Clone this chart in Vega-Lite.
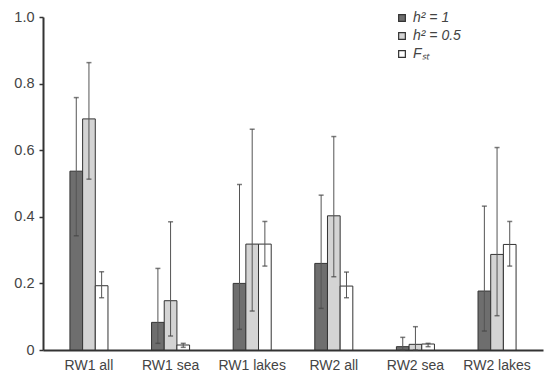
{
  "$schema": "https://vega.github.io/schema/vega-lite/v6.json",
  "width": 500,
  "height": 333,
  "autosize": "none",
  "padding": {"left": 43, "top": 17, "right": 1, "bottom": 26},
  "background": "white",
  "config": {
    "view": {"stroke": null},
    "font": "Liberation Sans"
  },
  "data": {
    "values": [
      {"group": "RW1 all", "series": "h² = 1", "value": 0.537, "lo": 0.343, "hi": 0.758},
      {"group": "RW1 all", "series": "h² = 0.5", "value": 0.694, "lo": 0.513, "hi": 0.863},
      {"group": "RW1 all", "series": "Fₛₜ", "value": 0.193, "lo": 0.157, "hi": 0.235},
      {"group": "RW1 sea", "series": "h² = 1", "value": 0.083, "lo": 0.02, "hi": 0.245},
      {"group": "RW1 sea", "series": "h² = 0.5", "value": 0.148, "lo": 0.042, "hi": 0.385},
      {"group": "RW1 sea", "series": "Fₛₜ", "value": 0.015, "lo": 0.008, "hi": 0.02},
      {"group": "RW1 lakes", "series": "h² = 1", "value": 0.2, "lo": 0.062, "hi": 0.497},
      {"group": "RW1 lakes", "series": "h² = 0.5", "value": 0.318, "lo": 0.117, "hi": 0.663},
      {"group": "RW1 lakes", "series": "Fₛₜ", "value": 0.318, "lo": 0.252, "hi": 0.386},
      {"group": "RW2 all", "series": "h² = 1", "value": 0.26, "lo": 0.125, "hi": 0.465},
      {"group": "RW2 all", "series": "h² = 0.5", "value": 0.403, "lo": 0.22, "hi": 0.641},
      {"group": "RW2 all", "series": "Fₛₜ", "value": 0.192, "lo": 0.157, "hi": 0.234},
      {"group": "RW2 sea", "series": "h² = 1", "value": 0.01, "lo": 0.0, "hi": 0.038},
      {"group": "RW2 sea", "series": "h² = 0.5", "value": 0.017, "lo": 0.0, "hi": 0.07},
      {"group": "RW2 sea", "series": "Fₛₜ", "value": 0.018, "lo": 0.01, "hi": 0.02},
      {"group": "RW2 lakes", "series": "h² = 1", "value": 0.177, "lo": 0.057, "hi": 0.432},
      {"group": "RW2 lakes", "series": "h² = 0.5", "value": 0.287, "lo": 0.103, "hi": 0.608},
      {"group": "RW2 lakes", "series": "Fₛₜ", "value": 0.317, "lo": 0.252, "hi": 0.386}
    ]
  },
  "encoding": {
    "x": {
      "field": "group",
      "type": "nominal",
      "sort": null,
      "scale": {"paddingInner": 0.534, "paddingOuter": 0.33},
      "axis": {
        "title": null,
        "labelAngle": 0,
        "ticks": false,
        "domainColor": "#333",
        "domainWidth": 2,
        "labelFontSize": 14,
        "labelColor": "#444",
        "labelPadding": 8
      }
    },
    "xOffset": {
      "field": "series",
      "type": "nominal",
      "scale": {"domain": ["h² = 1", "h² = 0.5", "Fₛₜ"], "paddingInner": 0, "paddingOuter": 0}
    }
  },
  "layer": [
    {
      "mark": {"type": "bar", "stroke": "#333", "strokeWidth": 1},
      "encoding": {
        "y": {
          "field": "value",
          "type": "quantitative",
          "scale": {"domain": [0, 1], "nice": false},
          "axis": {
            "title": null,
            "grid": false,
            "values": [0, 0.2, 0.4, 0.6, 0.8, 1.0],
            "labelExpr": "datum.value == 0 ? '0' : format(datum.value, '.1f')",
            "domainColor": "#333",
            "domainWidth": 2,
            "tickColor": "#333",
            "tickSize": 4,
            "tickWidth": 1.5,
            "labelFontSize": 14.5,
            "labelColor": "#444",
            "labelPadding": 5
          }
        },
        "fill": {
          "field": "series",
          "type": "nominal",
          "scale": {"domain": ["h² = 1", "h² = 0.5", "Fₛₜ"], "range": ["#6e6e6e", "#d4d4d4", "#ffffff"]},
          "legend": {
            "title": null,
            "orient": "none",
            "legendX": 352,
            "legendY": -6,
            "symbolType": "square",
            "symbolSize": 45,
            "symbolStrokeColor": "#333",
            "symbolStrokeWidth": 1.2,
            "labelFontSize": 14,
            "labelFontStyle": "italic",
            "labelColor": "#444",
            "labelOffset": 4,
            "rowPadding": 4
          }
        }
      }
    },
    {
      "mark": {"type": "rule", "color": "#555", "strokeWidth": 1},
      "encoding": {
        "y": {"field": "lo", "type": "quantitative"},
        "y2": {"field": "hi"}
      }
    },
    {
      "mark": {"type": "tick", "color": "#444", "size": 5, "thickness": 1.5},
      "encoding": {
        "y": {"field": "hi", "type": "quantitative"}
      }
    },
    {
      "mark": {"type": "tick", "color": "#444", "size": 5, "thickness": 1.5},
      "encoding": {
        "y": {"field": "lo", "type": "quantitative"}
      }
    }
  ]
}
